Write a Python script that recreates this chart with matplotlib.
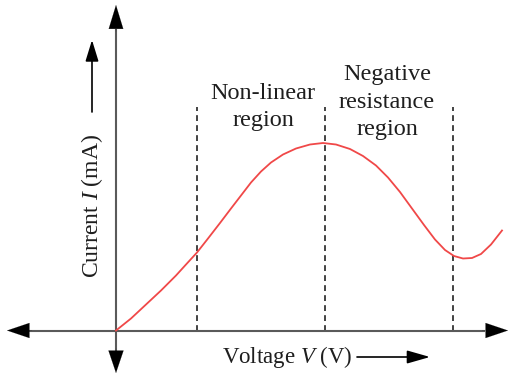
import matplotlib.pyplot as plt
import numpy as np

plt.rcParams['font.family'] = ['Liberation Serif', 'DejaVu Serif']
plt.rcParams['mathtext.fontset'] = 'custom'
plt.rcParams['mathtext.it'] = 'Liberation Serif:italic'
plt.rcParams['mathtext.rm'] = 'Liberation Serif'

# I-V curve (arbitrary units)
voltage = [0, 1.5, 3.0, 4.5, 6.0, 7.0, 8.1, 9.2, 10.4, 11.5, 12.5, 13.5,
           14.5, 15.5, 16.7, 18.0, 19.4, 20.7, 22.0, 23.4, 24.7, 26.0,
           27.2, 28.4, 29.6, 30.8, 31.9, 32.9, 33.8, 34.7, 35.6, 36.5,
           37.5, 38.6]
current = [0, 1.2, 2.6, 4.0, 5.5, 6.6, 7.8, 9.2, 10.75, 12.2, 13.5, 14.8,
           15.9, 16.8, 17.6, 18.2, 18.6, 18.75, 18.6, 18.15, 17.45, 16.5,
           15.3, 13.85, 12.2, 10.55, 9.1, 8.05, 7.45, 7.2, 7.25, 7.65,
           8.6, 10.0]

# region borders
boundaries = [8.1, 20.9, 33.7]
boundary_top = 22.35

region_labels = ['Non-linear\nregion', 'Negative\nresistance\nregion']
region_pos = [(14.7, 22.35), (27.1, 22.85)]

fig = plt.figure(figsize=(5.09, 3.75), dpi=100)
ax = fig.add_axes([0, 0, 1, 1])
ax.set_xlim(-11.6, 39.3)
ax.set_ylim(-4.45, 33.05)
ax.axis('off')

axis_col = '#5a5a5a'
txt_col = '#1e1e1e'
# axes lines
ax.plot([-8.6, 36.8], [0, 0], color=axis_col, lw=1.5, zorder=2)
ax.plot([0, 0], [-2.0, 30.1], color=axis_col, lw=1.5, zorder=2)


def head(x0, y0, x1, y1, hl, hw):
    ax.annotate('', xy=(x1, y1), xytext=(x0, y0),
                arrowprops=dict(arrowstyle='-|>,head_length=%g,head_width=%g' % (hl, hw),
                                mutation_scale=1, color='black', lw=0.1,
                                shrinkA=0, shrinkB=0), zorder=3)


# arrow heads on both ends of both axes
head(36.6, 0, 39.2, 0, 16, 5.4)
head(-8.4, 0, -10.9, 0, 16, 5.4)
head(0, 29.9, 0, 32.55, 17, 5.2)
head(0, -1.8, 0, -4.25, 16, 5.4)

# dashed region borders
for b in boundaries:
    ax.plot([b, b], [0, boundary_top], color='#222222', lw=1.2,
            linestyle=(0, (3.5, 2.5)), zorder=1)

ax.plot(voltage, current, color='#f04848', lw=1.3, zorder=4,
        solid_joinstyle='round')

for txt, (x, y) in zip(region_labels, region_pos):
    ax.text(x, y, txt, ha='center', va='center', fontsize=17.5,
            color=txt_col, linespacing=1.38)

# axis labels
ax.text(-2.4, 12.45, 'Current $\\mathit{I}$ (mA)', rotation=90, ha='center',
        va='center', fontsize=17, color=txt_col)
ax.text(17.15, -2.65, 'Voltage $\\mathit{V}$ (V)', ha='center', va='center',
        fontsize=16.5, color=txt_col)

ax.annotate('', xy=(-2.4, 29.05), xytext=(-2.4, 21.85),
            arrowprops=dict(arrowstyle='-|>,head_length=13,head_width=4',
                            mutation_scale=1, color='black', lw=1.2,
                            shrinkA=0, shrinkB=0))
ax.annotate('', xy=(31.4, -2.65), xytext=(24.1, -2.65),
            arrowprops=dict(arrowstyle='-|>,head_length=14,head_width=4',
                            mutation_scale=1, color='black', lw=1.2,
                            shrinkA=0, shrinkB=0))

fig.savefig('out.png', dpi=100)
